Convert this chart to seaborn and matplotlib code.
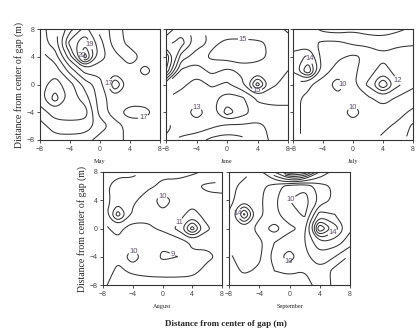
import numpy as np
import matplotlib
matplotlib.use("Agg")
import matplotlib.pyplot as plt
from matplotlib.path import Path
import seaborn as sns

# grid positions (m) for both axes
coords = [-8, -6, -4, -2, 0, 2, 4, 6, 8]

# values
# rows go from y=8 (top) down to y=-8, columns from x=-8 to x=8
may = [
    [13.6, 14.6, 16.6, 18.4, 16.6, 15.6, 16.4, 16.4, 16.4],
    [13.5, 14.5, 18.4, 19.8, 17.4, 15.4, 16.4, 16.4, 16.4],
    [12.5, 13.5, 16.6, 21.5, 17.4, 16.4, 15.3, 16.4, 16.6],
    [12.5, 12.4, 14.4, 16.4, 16.4, 16.6, 16.4, 17.4, 16.4],
    [12.4, 11.5, 12.6, 14.4, 15.5, 19.0, 16.4, 16.4, 16.4],
    [12.4, 10.5, 12.4, 13.5, 15.5, 16.6, 16.4, 16.4, 16.4],
    [13.5, 12.5, 12.4, 12.5, 15.4, 16.6, 17.5, 17.4, 16.4],
    [14.4, 13.5, 13.4, 13.5, 14.4, 15.5, 16.4, 16.4, 16.4],
    [14.4, 14.4, 14.4, 14.5, 15.5, 15.5, 16.4, 16.4, 16.4],
]
june = [
    [15.5, 16.5, 15.5, 14.5, 14.5, 14.2, 14.2, 14.5, 15.2],
    [16.5, 17.5, 15.5, 14.8, 15.2, 15.3, 15.2, 14.8, 14.5],
    [20.0, 15.5, 14.5, 15.2, 15.4, 15.8, 15.3, 14.8, 14.2],
    [19.0, 13.8, 13.5, 14.3, 13.8, 14.2, 14.5, 14.2, 14.0],
    [14.0, 13.3, 12.5, 13.2, 12.8, 13.8, 17.5, 14.2, 13.5],
    [13.0, 12.5, 12.5, 12.3, 11.5, 11.8, 13.2, 13.2, 13.2],
    [12.5, 12.5, 13.5, 12.5, 10.5, 11.5, 12.5, 12.8, 12.8],
    [13.3, 12.5, 12.5, 12.8, 13.3, 13.2, 13.2, 12.8, 12.8],
    [12.8, 13.2, 13.5, 14.3, 14.5, 14.3, 13.5, 12.8, 12.5],
]
july = [
    [12.5, 12.5, 13.3, 13.5, 13.2, 13.5, 13.6, 13.2, 12.8],
    [12.2, 12.3, 11.8, 11.8, 12.2, 12.3, 12.4, 12.3, 12.2],
    [13.5, 14.2, 11.5, 11.2, 10.8, 11.2, 11.8, 11.3, 11.2],
    [13.2, 16.0, 11.5, 10.5, 10.8, 11.5, 12.5, 11.5, 11.2],
    [11.5, 11.2, 10.5, 9.5, 10.8, 12.2, 15.0, 12.2, 11.2],
    [11.2, 10.8, 10.2, 10.3, 10.5, 10.8, 11.5, 10.8, 10.5],
    [11.2, 10.8, 10.3, 10.5, 9.5, 10.5, 10.5, 10.3, 9.8],
    [11.2, 10.8, 10.5, 10.8, 10.5, 10.5, 10.2, 9.8, 8.8],
    [11.2, 10.8, 10.5, 10.5, 10.5, 10.2, 9.8, 9.2, 8.8],
]
august = [
    [10.3, 10.5, 10.8, 11.2, 11.2, 11.5, 11.2, 10.8, 10.5],
    [10.5, 11.8, 11.3, 11.2, 10.8, 10.5, 10.2, 9.8, 9.8],
    [10.5, 11.5, 11.2, 10.5, 9.5, 10.3, 10.5, 10.3, 10.2],
    [10.2, 13.5, 10.8, 10.3, 10.2, 10.5, 11.5, 10.5, 10.2],
    [9.8, 10.3, 9.5, 9.8, 10.2, 11.2, 14.5, 11.2, 10.2],
    [9.8, 9.8, 9.8, 9.7, 9.2, 9.3, 10.2, 10.2, 10.2],
    [9.8, 9.8, 10.2, 9.8, 8.8, 9.0, 9.8, 9.8, 10.2],
    [9.5, 10.2, 9.8, 9.6, 9.6, 9.6, 9.7, 10.3, 10.3],
    [9.8, 10.5, 10.6, 10.6, 10.5, 10.5, 10.5, 10.5, 10.3],
]
september = [
    [11.5, 11.5, 12.5, 15.0, 19.0, 18.0, 14.0, 12.5, 12.3],
    [11.5, 12.5, 12.3, 11.5, 10.5, 10.2, 11.5, 12.2, 12.3],
    [11.5, 13.0, 12.2, 11.2, 10.0, 9.5, 11.2, 12.3, 12.3],
    [12.2, 16.2, 12.3, 11.2, 10.5, 9.8, 13.5, 13.0, 12.2],
    [12.2, 12.8, 11.5, 12.5, 11.2, 10.8, 17.0, 14.5, 12.2],
    [12.2, 12.6, 12.3, 11.0, 10.5, 11.0, 12.8, 12.5, 11.5],
    [11.8, 12.6, 12.2, 10.5, 9.5, 10.8, 11.5, 11.0, 9.8],
    [11.5, 12.2, 11.8, 11.0, 10.8, 11.0, 10.8, 9.6, 9.5],
    [11.0, 11.2, 11.2, 11.3, 11.5, 11.2, 10.8, 9.7, 9.5],
]

month_names = ["May", "June", "July", "August", "September"]
month_grids = [may, june, july, august, september]
month_levels = [
    list(range(11, 22)),
    list(range(11, 21)),
    list(range(9, 17)),
    list(range(9, 15)),
    list(range(10, 20)),
]
# which contour levels carry a number
label_levels = [
    [11, 13, 15, 17, 19, 20],
    [11, 13, 14, 15, 16, 17],
    [9, 10, 11, 12, 14],
    [9, 10, 11],
    [10, 12, 14, 16],
]


def chaikin(v, closed, n=3):
    # corner cutting, only to draw the contour lines smoother
    for _ in range(n):
        if closed:
            q = np.roll(v, -1, axis=0)
            new = np.empty((2 * len(v), 2))
            new[0::2] = 0.75 * v + 0.25 * q
            new[1::2] = 0.25 * v + 0.75 * q
        else:
            p, q = v[:-1], v[1:]
            mid = np.empty((2 * len(p), 2))
            mid[0::2] = 0.75 * p + 0.25 * q
            mid[1::2] = 0.25 * p + 0.75 * q
            new = np.vstack([v[:1], mid, v[-1:]])
        v = new
    return v


def smooth_path(path):
    if len(path.vertices) == 0:
        return path
    codes = path.codes
    verts = path.vertices
    if codes is None:
        codes = np.full(len(verts), Path.LINETO)
        codes[0] = Path.MOVETO
    starts = list(np.where(codes == Path.MOVETO)[0]) + [len(verts)]
    out_v, out_c = [], []
    for s, e in zip(starts[:-1], starts[1:]):
        v = verts[s:e]
        c = codes[s:e]
        closed = c[-1] == Path.CLOSEPOLY
        if closed:
            v = v[:-1]
        sv = v if len(v) < 3 else chaikin(v, closed)
        cc = np.full(len(sv), Path.LINETO)
        cc[0] = Path.MOVETO
        if closed:
            sv = np.vstack([sv, sv[:1]])
            cc = np.append(cc, Path.CLOSEPOLY)
        out_v.append(sv)
        out_c.append(cc)
    return Path(np.vstack(out_v), np.concatenate(out_c))


sns.set_style("ticks")
plt.rcParams["font.family"] = ["Liberation Sans", "DejaVu Sans"]

fig = plt.figure(figsize=(4.16, 3.28), dpi=100)
W, H = 416.0, 328.0

# panel boxes in pixels: left, top, right, bottom
boxes = [
    (40, 29, 160, 140),
    (166, 29, 288, 140),
    (293, 29, 413, 140),
    (103, 172, 222, 285),
    (229, 172, 350, 285),
]

serif = ["Liberation Serif", "DejaVu Serif"]
line_col = "#333333"

for idx, name in enumerate(month_names):
    grid, levels = month_grids[idx], month_levels[idx]
    l, t, r, b = boxes[idx]
    ax = fig.add_axes([l / W, 1 - b / H, (r - l) / W, (b - t) / H])
    z = np.array(grid)[::-1]
    cs = ax.contour(coords, coords, z, levels=levels, colors=line_col, linewidths=0.75)
    cs.set_paths([smooth_path(p) for p in cs.get_paths()])
    labels = ax.clabel(cs, levels=label_levels[idx], fmt="%d", fontsize=5.5,
                       inline=True, inline_spacing=1, colors="#5e4f66")
    for txt in labels:
        txt.set_rotation(0)
        px, py = txt.get_position()
        # numbers squeezed against the frame are dropped
        if abs(px) > 7.0 or abs(py) > 7.2:
            txt.set_visible(False)

    ax.set_xlim(-8, 8)
    ax.set_ylim(-8, 8)
    ax.set_xticks([-8, -4, 0, 4, 8])
    ax.set_yticks([-8, -4, 0, 4, 8])
    ax.tick_params(direction="out", length=2.5, width=0.6, pad=1.5,
                   labelsize=5, labelcolor="#444444", color="#333333")
    if idx not in (0, 3):
        ax.set_yticklabels([])
    for sp in ax.spines.values():
        sp.set_linewidth(0.8)
        sp.set_color("#333333")
    ax.text(0.5, -0.17, name, transform=ax.transAxes, ha="center", va="top",
            fontsize=4.5, family=serif)
    if idx in (0, 3):
        ax.set_ylabel("Distance from center of gap (m)", family=serif,
                      fontsize=7, labelpad=2)

fig.text(226 / W, 1 - 324 / H, "Distance from center of gap (m)", ha="center",
         va="center", fontsize=6.5, fontweight="bold", family=serif)

fig.savefig("out.png", dpi=100)
